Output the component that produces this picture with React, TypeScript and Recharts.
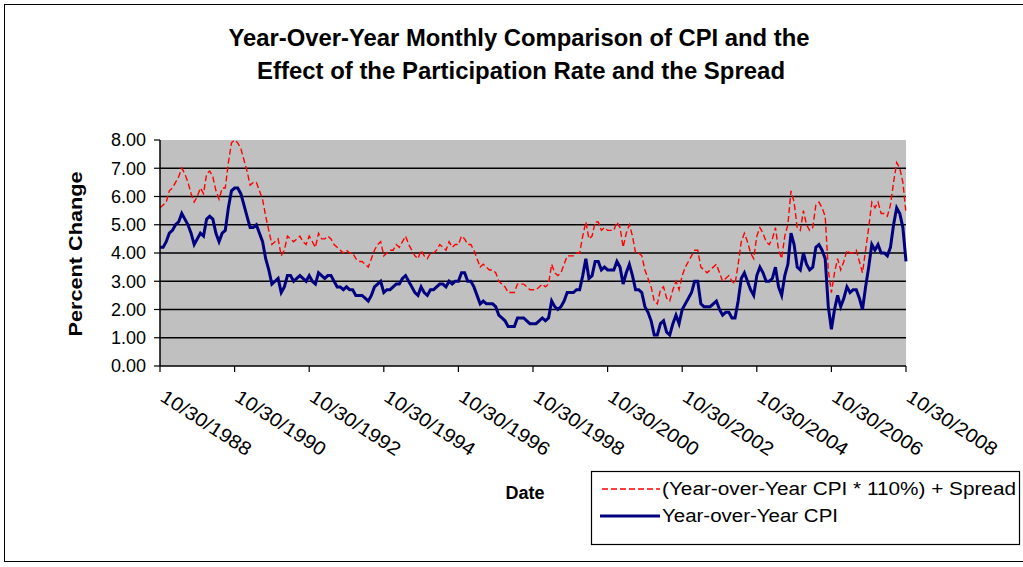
import { CartesianGrid, Line, LineChart, XAxis, YAxis } from "recharts";

// first month of the series, then one value per month up to 10/2008
const startYear = 1988;
const startMonth = 10;

const yearOverYearCpi = [
  4.2, 4.2, 4.4,
  4.7, 4.8, 5.0, 5.1, 5.4, 5.2, 5.0, 4.7, 4.3, 4.5, 4.7, 4.6, // 1989
  5.2, 5.3, 5.2, 4.7, 4.4, 4.7, 4.8, 5.6, 6.2, 6.3, 6.3, 6.1, // 1990
  5.7, 5.3, 4.9, 4.9, 5.0, 4.7, 4.4, 3.8, 3.4, 2.9, 3.0, 3.1, // 1991
  2.6, 2.8, 3.2, 3.2, 3.0, 3.1, 3.2, 3.1, 3.0, 3.2, 3.0, 2.9, // 1992
  3.3, 3.2, 3.1, 3.2, 3.2, 3.0, 2.8, 2.8, 2.7, 2.8, 2.7, 2.7, // 1993
  2.5, 2.5, 2.5, 2.4, 2.3, 2.5, 2.8, 2.9, 3.0, 2.6, 2.7, 2.7, // 1994
  2.8, 2.9, 2.9, 3.1, 3.2, 3.0, 2.8, 2.6, 2.5, 2.8, 2.6, 2.5, // 1995
  2.7, 2.7, 2.8, 2.9, 2.9, 2.8, 3.0, 2.9, 3.0, 3.0, 3.3, 3.3, // 1996
  3.0, 3.0, 2.8, 2.5, 2.2, 2.3, 2.2, 2.2, 2.2, 2.1, 1.8, 1.7, // 1997
  1.6, 1.4, 1.4, 1.4, 1.7, 1.7, 1.7, 1.6, 1.5, 1.5, 1.5, 1.6, // 1998
  1.7, 1.6, 1.7, 2.3, 2.1, 2.0, 2.1, 2.3, 2.6, 2.6, 2.6, 2.7, // 1999
  2.7, 3.2, 3.8, 3.1, 3.2, 3.7, 3.7, 3.4, 3.5, 3.4, 3.4, 3.4, // 2000
  3.7, 3.5, 2.9, 3.3, 3.6, 3.2, 2.7, 2.7, 2.6, 2.1, 1.9, 1.6, // 2001
  1.1, 1.1, 1.5, 1.6, 1.2, 1.1, 1.5, 1.8, 1.5, 2.0, 2.2, 2.4, // 2002
  2.6, 3.0, 3.0, 2.2, 2.1, 2.1, 2.1, 2.2, 2.3, 2.0, 1.8, 1.9, // 2003
  1.9, 1.7, 1.7, 2.3, 3.1, 3.3, 3.0, 2.7, 2.5, 3.2, 3.5, 3.3, // 2004
  3.0, 3.0, 3.1, 3.5, 2.8, 2.5, 3.2, 3.6, 4.7, 4.3, 3.5, 3.4, // 2005
  4.0, 3.6, 3.4, 3.5, 4.2, 4.3, 4.1, 3.8, 2.1, 1.3, 2.0, 2.5, // 2006
  2.1, 2.4, 2.8, 2.6, 2.7, 2.7, 2.4, 2.0, 2.8, 3.5, 4.3, 4.1, // 2007
  4.3, 4.0, 4.0, 3.9, 4.2, 5.0, 5.6, 5.4, 4.9, 3.7, // 2008
];

const cpiPlusSpread = [
  5.6, 5.7, 5.8,
  6.2, 6.3, 6.5, 6.7, 7.0, 6.8, 6.5, 6.1, 5.8, 6.0, 6.3, 6.1, // 1989
  6.8, 6.9, 6.7, 6.2, 5.9, 6.3, 6.3, 7.2, 7.9, 8.0, 7.9, 7.7, // 1990
  7.3, 6.9, 6.4, 6.5, 6.5, 6.2, 5.9, 5.3, 4.8, 4.3, 4.4, 4.5, // 1991
  3.9, 4.1, 4.6, 4.5, 4.4, 4.5, 4.6, 4.4, 4.3, 4.6, 4.4, 4.2, // 1992
  4.7, 4.5, 4.5, 4.6, 4.5, 4.3, 4.2, 4.1, 4.0, 4.1, 4.0, 4.0, // 1993
  3.8, 3.7, 3.7, 3.6, 3.5, 3.8, 4.1, 4.3, 4.4, 3.9, 4.0, 4.1, // 1994
  4.1, 4.3, 4.2, 4.4, 4.6, 4.3, 4.1, 3.9, 3.8, 4.1, 3.9, 3.8, // 1995
  4.0, 4.0, 4.1, 4.3, 4.2, 4.1, 4.4, 4.2, 4.3, 4.3, 4.6, 4.5, // 1996
  4.3, 4.3, 4.1, 3.8, 3.5, 3.6, 3.5, 3.4, 3.4, 3.3, 3.0, 2.9, // 1997
  2.8, 2.6, 2.6, 2.6, 2.9, 2.9, 2.9, 2.8, 2.7, 2.7, 2.7, 2.8, // 1998
  2.9, 2.8, 2.9, 3.6, 3.3, 3.2, 3.3, 3.6, 3.9, 3.9, 3.9, 4.0, // 1999
  4.0, 4.6, 5.1, 4.5, 4.6, 5.1, 5.1, 4.8, 4.9, 4.8, 4.8, 4.8, // 2000
  5.1, 4.9, 4.2, 4.7, 5.0, 4.6, 4.0, 4.0, 3.9, 3.4, 3.1, 2.8, // 2001
  2.3, 2.2, 2.7, 2.8, 2.4, 2.3, 2.7, 3.0, 2.7, 3.2, 3.5, 3.7, // 2002
  3.9, 4.1, 4.1, 3.5, 3.4, 3.3, 3.4, 3.5, 3.6, 3.3, 3.0, 3.1, // 2003
  3.2, 3.0, 2.9, 3.6, 4.4, 4.7, 4.4, 4.0, 3.8, 4.6, 4.9, 4.7, // 2004
  4.4, 4.3, 4.5, 4.9, 4.1, 3.8, 4.6, 5.0, 6.2, 5.8, 4.9, 4.8, // 2005
  5.5, 5.0, 4.8, 4.9, 5.7, 5.8, 5.6, 5.3, 3.4, 2.6, 3.3, 3.8, // 2006
  3.4, 3.7, 4.1, 4.0, 4.0, 4.1, 3.7, 3.3, 4.1, 4.9, 5.8, 5.6, // 2007
  5.8, 5.4, 5.4, 5.3, 5.7, 6.5, 7.2, 7.0, 6.5, 5.4, // 2008
];

const yTicks = [0, 1, 2, 3, 4, 5, 6, 7, 8];
const gridValues = [1, 2, 3, 4, 5, 6, 7];

const seriesNames = ["(Year-over-Year CPI * 110%) + Spread", "Year-over-Year CPI"];
const seriesColors = ["#FF0000", "#000080"];

const titleLines = [
  "Year-Over-Year Monthly Comparison of CPI and the",
  "Effect of the Participation Rate and the Spread",
];

const FONT = "'Liberation Sans', Arial, sans-serif";

const chartData = yearOverYearCpi.map((cpi, i) => {
  const m = ((startMonth - 1 + i) % 12) + 1;
  const y = startYear + Math.floor((startMonth - 1 + i) / 12);
  return {
    date: `${m}/${m === 2 ? 28 : 30}/${y}`,
    cpi,
    spread: cpiPlusSpread[i],
  };
});

function DateTick(props: any) {
  const { x, y, payload } = props;
  const tx = x - 1;
  const ty = y + 26;
  return (
    <text
      x={tx}
      y={ty}
      transform={`rotate(33 ${tx} ${ty})`}
      fontFamily={FONT}
      fontSize={19}
      fill="#000"
      textAnchor="start"
      textLength={104}
      lengthAdjust="spacingAndGlyphs"
    >
      {payload.value}
    </text>
  );
}

export default function App() {
  return (
    <div style={{ position: "absolute", left: 0, top: 0, width: 1023, height: 567, background: "#fff" }}>
      <LineChart
        width={1023}
        height={567}
        data={chartData}
        margin={{ top: 140, right: 117, bottom: 171, left: 100 }}
      >
        <CartesianGrid
          fill="#C0C0C0"
          fillOpacity={1}
          vertical={false}
          horizontalValues={gridValues}
          stroke="#000"
          strokeWidth={1.5}
        />
        <XAxis
          dataKey="date"
          interval={23}
          height={30}
          tickSize={6}
          tick={<DateTick />}
          axisLine={{ stroke: "#000", strokeWidth: 1.5 }}
          tickLine={{ stroke: "#000", strokeWidth: 1.2 }}
        />
        <YAxis
          width={60}
          domain={[0, 8]}
          ticks={yTicks}
          interval={0}
          tickSize={6}
          tickMargin={8}
          tickFormatter={(v: number) => v.toFixed(2)}
          tick={{ fontFamily: FONT, fontSize: 18, fill: "#000" }}
          axisLine={{ stroke: "#000", strokeWidth: 1.5 }}
          tickLine={{ stroke: "#000", strokeWidth: 1.2 }}
        />
        <Line
          type="linear"
          dataKey="spread"
          stroke={seriesColors[0]}
          strokeWidth={1.4}
          strokeDasharray="6 3"
          dot={false}
          isAnimationActive={false}
        />
        <Line
          type="linear"
          dataKey="cpi"
          stroke={seriesColors[1]}
          strokeWidth={3}
          dot={false}
          isAnimationActive={false}
        />
      </LineChart>

      <svg
        width={1023}
        height={567}
        style={{ position: "absolute", left: 0, top: 0, pointerEvents: "none" }}
        fontFamily={FONT}
      >
        <rect x={4.5} y={4.5} width={1030} height={557} fill="none" stroke="#000" strokeWidth={1} />
        <text x={519} y={46} textAnchor="middle" fontWeight="bold" fontSize={24} textLength={581} lengthAdjust="spacingAndGlyphs">
          {titleLines[0]}
        </text>
        <text x={521} y={79} textAnchor="middle" fontWeight="bold" fontSize={24} textLength={528} lengthAdjust="spacingAndGlyphs">
          {titleLines[1]}
        </text>
        <text
          x={0}
          y={0}
          transform="translate(82 254) rotate(-90)"
          textAnchor="middle"
          fontWeight="bold"
          fontSize={18}
          textLength={165}
          lengthAdjust="spacingAndGlyphs"
        >
          Percent Change
        </text>
        <text x={525} y={499} textAnchor="middle" fontWeight="bold" fontSize={18}>
          Date
        </text>

        <rect x={591.5} y={471.5} width={428} height={73} fill="#fff" stroke="#000" strokeWidth={1.2} />
        <line x1={602} y1={489} x2={660} y2={489} stroke={seriesColors[0]} strokeWidth={1.4} strokeDasharray="6 3" />
        <text x={662} y={495} fontSize={18} textLength={354} lengthAdjust="spacingAndGlyphs">
          {seriesNames[0]}
        </text>
        <line x1={600} y1={516} x2={660} y2={516} stroke={seriesColors[1]} strokeWidth={3} />
        <text x={662} y={522} fontSize={18} textLength={176} lengthAdjust="spacingAndGlyphs">
          {seriesNames[1]}
        </text>
      </svg>
    </div>
  );
}
